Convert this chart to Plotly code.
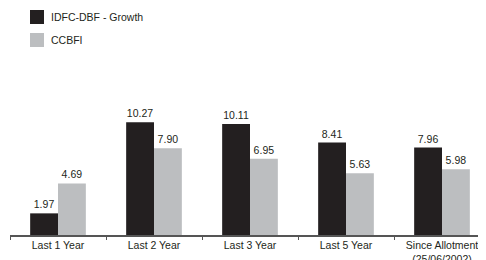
import plotly.graph_objects as go

categories = ["Last 1 Year", "Last 2 Year", "Last 3 Year", "Last 5 Year", "Since Allotment<br>(25/06/2002)"]
fund_name = "IDFC-DBF - Growth"
bench_name = "CCBFI"
fund_values = [1.97, 10.27, 10.11, 8.41, 7.96]
bench_values = [4.69, 7.90, 6.95, 5.63, 5.98]
fund_color = "#231f20"
bench_color = "#bcbec0"

font_family = "Liberation Sans, Arial, sans-serif"

W, H = 486, 260
ML, MR, MT, MB = 2, 4, 82, 33
PW, PH = W - ML - MR, H - MT - MB


def px(x):
    return (x - ML) / PW


def py(y):
    return (H - MB - y) / PH


fig = go.Figure()
fig.add_trace(go.Bar(
    x=categories, y=fund_values, name=fund_name,
    marker=dict(color=fund_color, line=dict(width=0)),
    text=[f"{v:.2f}" for v in fund_values], textposition="outside",
    textfont=dict(size=10.5, color=fund_color, family=font_family),
    cliponaxis=False, constraintext="none",
))
fig.add_trace(go.Bar(
    x=categories, y=bench_values, name=bench_name,
    marker=dict(color=bench_color, line=dict(width=0)),
    text=[f"{v:.2f}" for v in bench_values], textposition="outside",
    textfont=dict(size=10.5, color=fund_color, family=font_family),
    cliponaxis=False, constraintext="none",
))

# manual legend
shapes = []
annotations = []
for i, (name, color) in enumerate([(fund_name, fund_color), (bench_name, bench_color)]):
    y0 = 2 + i * 23
    shapes.append(dict(type="rect", xref="paper", yref="paper",
                       x0=px(22), x1=px(36), y0=py(y0), y1=py(y0 + 14),
                       fillcolor=color, line=dict(width=0)))
    annotations.append(dict(xref="paper", yref="paper", x=px(41), y=py(y0 + 7),
                            xanchor="left", yanchor="middle", showarrow=False,
                            text=name, font=dict(size=10.5, color=fund_color, family=font_family)))

fig.update_layout(
    width=W, height=H,
    margin=dict(l=ML, r=MR, t=MT, b=MB, autoexpand=False),
    paper_bgcolor="white", plot_bgcolor="white",
    barmode="group", bargap=0.42, bargroupgap=0,
    font=dict(family=font_family, size=10.5, color=fund_color),
    showlegend=False,
    shapes=shapes, annotations=annotations,
)
fig.update_xaxes(
    type="category", range=[-0.5, 4.5], automargin=False,
    showline=True, linecolor="#555555", linewidth=1.5,
    ticks="outside", tickson="boundaries", ticklen=3, tickcolor="#555555",
    showgrid=False, tickangle=0, tickfont=dict(size=10.5, color=fund_color),
)
fig.update_yaxes(
    range=[0, 13.2], visible=False, showgrid=False, zeroline=False,
)

fig.write_html("out.html")
